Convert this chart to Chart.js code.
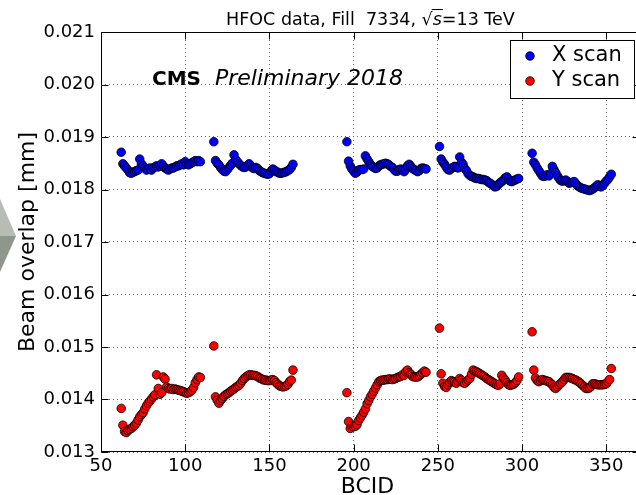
<!DOCTYPE html>
<html><head><meta charset="utf-8">
<script src="https://cdn.jsdelivr.net/npm/chart.js@4.4.1/dist/chart.umd.min.js"></script>
<style>html,body{margin:0;padding:0;overflow:hidden;background:#fff;width:636px;height:495px}canvas{display:block}</style>
</head><body>
<canvas id="c" width="645" height="495"></canvas>
<script>
// ---- data ----
const trainStarts = [62, 117, 196, 251, 306];
const xScan1 = [0.01871,0.01849,0.01845,0.01841,0.01837,0.01832,0.01831,0.01833,0.01834,0.01836,0.01837,0.01858,0.01849,0.01845,0.01841,0.01837,0.01839,0.01841,0.01837,0.01841,0.01843,0.01845,0.01843,0.01845,0.01849,0.01845,0.01841,0.01839,0.01837,0.01839,0.01841,0.01841,0.01843,0.01845,0.01845,0.01847,0.01849,0.01847,0.01853,0.01849,0.01847,0.01849,0.01851,0.01853,0.01855,0.01853,0.01855,0.01853];
const xScan2 = [0.01891,0.01855,0.01850,0.01847,0.01842,0.01838,0.01835,0.01834,0.01838,0.01842,0.01846,0.01850,0.01866,0.01857,0.01853,0.01849,0.01846,0.01843,0.01842,0.01843,0.01846,0.01849,0.01845,0.01841,0.01840,0.01842,0.01840,0.01836,0.01834,0.01832,0.01831,0.01830,0.01829,0.01830,0.01835,0.01839,0.01837,0.01834,0.01833,0.01831,0.01831,0.01832,0.01833,0.01834,0.01836,0.01838,0.01842,0.01848];
const xScan3 = [0.01891,0.01854,0.01845,0.01839,0.01835,0.01831,0.01833,0.01837,0.01838,0.01838,0.01839,0.01864,0.01858,0.01853,0.01848,0.01844,0.01842,0.01840,0.01841,0.01845,0.01847,0.01848,0.01849,0.01850,0.01849,0.01847,0.01844,0.01842,0.01838,0.01835,0.01835,0.01838,0.01839,0.01837,0.01834,0.01838,0.01845,0.01848,0.01844,0.01840,0.01838,0.01836,0.01834,0.01836,0.01840,0.01841,0.01840,0.01839];
const xScan4 = [0.01882,0.01858,0.01852,0.01848,0.01843,0.01838,0.01837,0.01840,0.01842,0.01844,0.01843,0.01841,0.01862,0.01852,0.01848,0.01840,0.01836,0.01830,0.01827,0.01825,0.01824,0.01822,0.01821,0.01821,0.01820,0.01819,0.01819,0.01818,0.01817,0.01814,0.01812,0.01810,0.01807,0.01805,0.01806,0.01810,0.01813,0.01815,0.01818,0.01822,0.01824,0.01820,0.01816,0.01815,0.01817,0.01818,0.01820,0.01821];
const xScan5 = [0.01869,0.01852,0.01847,0.01841,0.01836,0.01831,0.01826,0.01825,0.01826,0.01828,0.01826,0.01830,0.01844,0.01838,0.01832,0.01826,0.01821,0.01817,0.01816,0.01817,0.01818,0.01815,0.01812,0.01813,0.01814,0.01815,0.01811,0.01807,0.01805,0.01803,0.01802,0.01801,0.01800,0.01799,0.01798,0.01799,0.01801,0.01803,0.01806,0.01809,0.01807,0.01805,0.01808,0.01812,0.01816,0.01819,0.01824,0.01829];
const yScan1 = [0.01383,0.01351,0.01339,0.01337,0.01341,0.01343,0.01345,0.01348,0.01351,0.01355,0.01361,0.01367,0.01371,0.01375,0.01382,0.01388,0.01393,0.01397,0.01401,0.01405,0.01409,0.01447,0.01421,0.01410,0.01413,0.01443,0.01439,0.01424,0.01421,0.01420,0.01421,0.01419,0.01420,0.01419,0.01418,0.01417,0.01416,0.01415,0.01413,0.01412,0.01413,0.01415,0.01418,0.01423,0.01432,0.01438,0.01443,0.01442];
const yScan2 = [0.01502,0.01405,0.01399,0.01393,0.01398,0.01402,0.01406,0.01409,0.01411,0.01413,0.01416,0.01418,0.01420,0.01423,0.01425,0.01427,0.01431,0.01436,0.01440,0.01443,0.01445,0.01447,0.01447,0.01446,0.01446,0.01445,0.01444,0.01441,0.01440,0.01438,0.01437,0.01437,0.01436,0.01436,0.01437,0.01438,0.01436,0.01432,0.01429,0.01426,0.01425,0.01424,0.01425,0.01426,0.01429,0.01434,0.01437,0.01456];
const yScan3 = [0.01413,0.01358,0.01345,0.01350,0.01348,0.01349,0.01352,0.01360,0.01365,0.01370,0.01376,0.01382,0.01392,0.01398,0.01405,0.01410,0.01416,0.01422,0.01428,0.01434,0.01436,0.01437,0.01437,0.01438,0.01438,0.01439,0.01439,0.01438,0.01439,0.01440,0.01442,0.01443,0.01444,0.01447,0.01446,0.01453,0.01456,0.01451,0.01448,0.01444,0.01443,0.01443,0.01443,0.01445,0.01448,0.01451,0.01454,0.01452];
const yScan4 = [0.01536,0.01449,0.01431,0.01425,0.01423,0.01428,0.01433,0.01436,0.01434,0.01433,0.01431,0.01435,0.01440,0.01437,0.01432,0.01431,0.01434,0.01437,0.01440,0.01448,0.01456,0.01454,0.01453,0.01451,0.01449,0.01447,0.01445,0.01443,0.01440,0.01438,0.01436,0.01434,0.01432,0.01430,0.01428,0.01427,0.01430,0.01446,0.01441,0.01437,0.01432,0.01428,0.01427,0.01428,0.01429,0.01432,0.01436,0.01443];
const yScan5 = [0.01529,0.01456,0.01441,0.01436,0.01434,0.01436,0.01438,0.01437,0.01436,0.01435,0.01434,0.01431,0.01428,0.01423,0.01421,0.01424,0.01428,0.01431,0.01434,0.01438,0.01442,0.01442,0.01442,0.01441,0.01440,0.01438,0.01437,0.01435,0.01433,0.01430,0.01427,0.01424,0.01421,0.01421,0.01422,0.01425,0.01430,0.01430,0.01429,0.01428,0.01428,0.01428,0.01428,0.01429,0.01430,0.01434,0.01438,0.01459];
const xTickValues = [50, 100, 150, 200, 250, 300, 350];
const yTickValues = [0.013, 0.014, 0.015, 0.016, 0.017, 0.018, 0.019, 0.020, 0.021];
const seriesNames = ['X scan', 'Y scan'];
const titleParts = ['HFOC data, Fill  7334, ', 's', '=13 TeV'];
const xTitle = 'BCID';
const yTitle = 'Beam overlap [mm]';
const cmsText = 'CMS';
const prelimText = 'Preliminary 2018';

// ---- build points ----
function toPoints(trains) {
  const pts = [];
  trains.forEach((vals, t) => vals.forEach((v, i) => pts.push({x: trainStarts[t] + i, y: v})));
  return pts;
}
const xPts = toPoints([xScan1, xScan2, xScan3, xScan4, xScan5]);
const yPts = toPoints([yScan1, yScan2, yScan3, yScan4, yScan5]);

const FONT = '"DejaVu Sans", "Liberation Sans", sans-serif';
const COLORS = ['#0000ff', '#ff0000'];

const deco = {
  id: 'deco',
  beforeDraw(chart) {
    const ctx = chart.ctx;
    ctx.save();
    ctx.fillStyle = '#fff';
    ctx.fillRect(0, 0, chart.width, chart.height);
    // left-edge decoration (arrow shape)
    ctx.beginPath(); ctx.moveTo(0, 199); ctx.lineTo(16, 236); ctx.lineTo(0, 236); ctx.closePath();
    ctx.fillStyle = '#b7bdb5'; ctx.fill();
    ctx.beginPath(); ctx.moveTo(0, 236); ctx.lineTo(16, 236); ctx.lineTo(0, 272); ctx.closePath();
    ctx.fillStyle = '#8f978d'; ctx.fill();
    ctx.restore();
  },
  afterDraw(chart) {
    const {ctx, chartArea: a, scales: {x, y}} = chart;
    ctx.save();
    ctx.strokeStyle = '#000'; ctx.lineWidth = 1;
    const L = Math.round(a.left) + 0.5, R = Math.round(a.right) - 0.5;
    const T = Math.round(a.top) + 0.5, B = Math.round(a.bottom) - 0.5;
    ctx.strokeRect(L, T, R - L, B - T);
    ctx.beginPath();
    xTickValues.forEach(v => {
      const px = Math.round(x.getPixelForValue(v)) + 0.5;
      ctx.moveTo(px, B); ctx.lineTo(px, B - 7);
      ctx.moveTo(px, T); ctx.lineTo(px, T + 7);
    });
    yTickValues.forEach(v => {
      const py = Math.round(y.getPixelForValue(v)) + 0.5;
      ctx.moveTo(L, py); ctx.lineTo(L + 7, py);
      ctx.moveTo(R, py); ctx.lineTo(R - 7, py);
    });
    ctx.stroke();

    ctx.fillStyle = '#000';
    // title
    const TS = 17.5;
    ctx.font = TS + 'px ' + FONT;
    ctx.textBaseline = 'alphabetic';
    const sqrtW = ctx.measureText('\u221A').width;
    const w0 = ctx.measureText(titleParts[0]).width;
    ctx.font = 'italic ' + TS + 'px ' + FONT;
    const w1 = ctx.measureText(titleParts[1]).width;
    ctx.font = TS + 'px ' + FONT;
    const w2 = ctx.measureText(titleParts[2]).width;
    const total = w0 + sqrtW + w1 + w2;
    let tx = (a.left + a.right) / 2 - total / 2;
    const ty = 25;
    ctx.textAlign = 'left';
    ctx.fillText(titleParts[0], tx, ty); tx += w0;
    ctx.fillText('\u221A', tx, ty); tx += sqrtW;
    ctx.font = 'italic ' + TS + 'px ' + FONT;
    ctx.fillText(titleParts[1], tx, ty);
    ctx.beginPath(); ctx.lineWidth = 1;
    ctx.moveTo(tx - 1, ty - 15.5); ctx.lineTo(tx + w1 + 1, ty - 15.5); ctx.stroke();
    tx += w1;
    ctx.font = TS + 'px ' + FONT;
    ctx.fillText(titleParts[2], tx, ty);

    // CMS Preliminary
    ctx.font = 'bold 20px ' + FONT;
    ctx.fillText(cmsText, 152, 85);
    ctx.font = 'italic 22px ' + FONT;
    ctx.fillText(prelimText, 215, 85);

    // axis titles
    ctx.font = '22px ' + FONT;
    ctx.textAlign = 'center';
    ctx.textBaseline = 'middle';
    ctx.fillText(xTitle, (a.left + a.right) / 2 - 3, 487);
    ctx.save();
    ctx.translate(28, (a.top + a.bottom) / 2);
    ctx.rotate(-Math.PI / 2);
    ctx.fillText(yTitle, 0, 0);
    ctx.restore();

    // legend
    ctx.fillStyle = '#fff';
    ctx.fillRect(510.5, 40.5, 124, 58);
    ctx.strokeStyle = '#000'; ctx.lineWidth = 1;
    ctx.strokeRect(510.5, 40.5, 124, 58);
    seriesNames.forEach((n, i) => {
      const cy = 56 + i * 25;
      ctx.beginPath(); ctx.arc(530, cy, 4.3, 0, Math.PI * 2);
      ctx.fillStyle = COLORS[i]; ctx.fill();
      ctx.strokeStyle = '#000'; ctx.lineWidth = 0.8; ctx.stroke();
      ctx.fillStyle = '#000';
      ctx.font = '21px ' + FONT;
      ctx.textAlign = 'left'; ctx.textBaseline = 'middle';
      ctx.fillText(n, 552, cy);
    });
    ctx.restore();
  }
};

new Chart(document.getElementById('c'), {
  type: 'scatter',
  data: {
    datasets: [
      {label: seriesNames[0], data: xPts, backgroundColor: COLORS[0], borderColor: '#000', borderWidth: 0.8, pointRadius: 4.3},
      {label: seriesNames[1], data: yPts, backgroundColor: COLORS[1], borderColor: '#000', borderWidth: 0.8, pointRadius: 4.3}
    ]
  },
  options: {
    responsive: false,
    animation: false,
    devicePixelRatio: 1,
    layout: {padding: {top: 32, right: 4, left: 0, bottom: 0}},
    plugins: {legend: {display: false}, tooltip: {enabled: false}},
    scales: {
      x: {
        type: 'linear', min: 50, max: 370,
        afterFit: s => { s.height = 43; },
        ticks: {stepSize: 50, includeBounds: false, padding: 4, color: '#000', font: {family: FONT, size: 18},
                callback: v => String(v)},
        grid: {color: '#666', lineWidth: 1, drawTicks: false},
        border: {display: false, dash: [1, 3]}
      },
      y: {
        type: 'linear', min: 0.013, max: 0.021,
        afterFit: s => { s.width = 101; },
        ticks: {stepSize: 0.001, includeBounds: false, padding: 6, color: '#000', font: {family: FONT, size: 18},
                callback: v => Number(v).toFixed(3)},
        grid: {color: '#666', lineWidth: 1, drawTicks: false},
        border: {display: false, dash: [1, 3]}
      }
    }
  },
  plugins: [deco]
});
</script>
</body></html>
